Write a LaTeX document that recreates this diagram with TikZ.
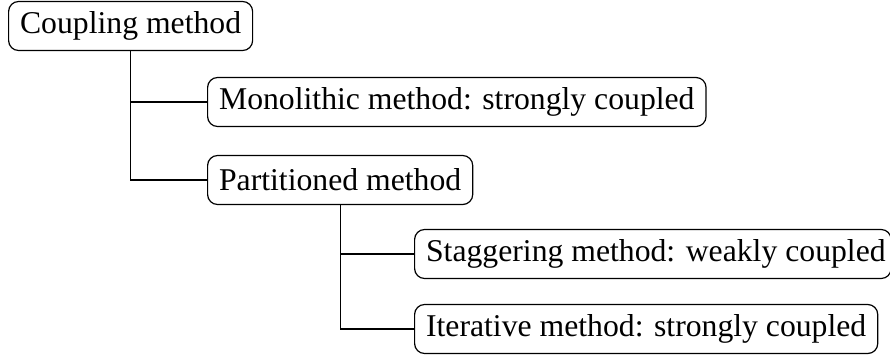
\documentclass[tikz,border=0pt]{standalone}
\usepackage{fontspec}
\setmainfont{Liberation Serif}
\newlength\stagw
\begin{document}
\settowidth\stagw{\fontsize{15.85}{19}\selectfont Staggering method: weakly coupled}%
\begin{tikzpicture}[x=0.5pt,y=-0.5pt,
  box/.style={draw, line width=0.6pt, rounded corners=5pt, anchor=west,
    minimum height=24.5pt, inner xsep=5.75pt, inner ysep=0pt,
    font=\fontsize{15.85}{19}\selectfont},
  link/.style={line width=0.6pt}]
\useasboundingbox (0,0) rectangle (890,354);
\node[box] (coup) at (8,26) {Coupling method};
\node[box] (mono) at (207,102) {Monolithic method: strongly coupled};
\node[box] (part) at (207,180) {Partitioned method};
\node[box] (stag) at (414,254) {\makebox[\dimexpr\stagw-3pt\relax][l]{Staggering method: weakly coupled}};
\node[box] (iter) at (414,329) {Iterative method: strongly coupled};
\draw[link] (coup.south) |- (mono.west);
\draw[link] (coup.south) |- (part.west);
\draw[link] (part.south) |- (stag.west);
\draw[link] (part.south) |- (iter.west);
\end{tikzpicture}
\end{document}
